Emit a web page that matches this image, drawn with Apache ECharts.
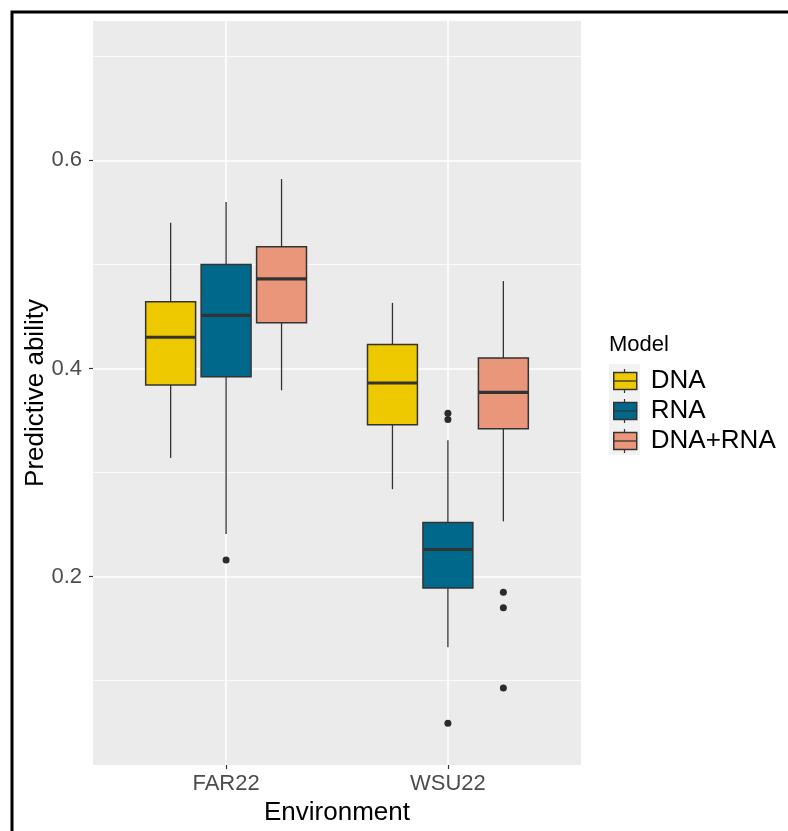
<!DOCTYPE html>
<html>
<head>
<meta charset="utf-8">
<script src="https://cdn.jsdelivr.net/npm/echarts@6/dist/echarts.min.js"></script>
<style>
  html, body { margin: 0; padding: 0; background: #fff; }
  #chart { width: 788px; height: 831px; }
</style>
</head>
<body>
<div id="chart"></div>
<script>
var environments = ['FAR22', 'WSU22'];
var models = ['DNA', 'RNA', 'DNA+RNA'];
var modelColors = ['#EEC900', '#00688B', '#E9967A'];

// per environment: [lower whisker, Q1, median, Q3, upper whisker]
var dnaStats = [[0.314, 0.384, 0.430, 0.464, 0.540], [0.284, 0.346, 0.386, 0.423, 0.463]];
var rnaStats = [[0.241, 0.392, 0.451, 0.500, 0.560], [0.132, 0.189, 0.226, 0.252, 0.331]];
var dnaRnaStats = [[0.379, 0.444, 0.486, 0.517, 0.582], [0.253, 0.342, 0.377, 0.410, 0.484]];

// outliers: [environment index, value]
var dnaOutliers = [];
var rnaOutliers = [[0, 0.216], [1, 0.357], [1, 0.351], [1, 0.059]];
var dnaRnaOutliers = [[1, 0.185], [1, 0.170], [1, 0.093]];

var yTicks = [0.2, 0.4, 0.6];
var yMinorTicks = [0.1, 0.3, 0.5, 0.7];

var FONT = 'Liberation Sans, Arial, sans-serif';
var dodge = [-0.25, 0, 0.25];
var boxWidth = 0.225;

var chart = echarts.init(document.getElementById('chart'));

// 箱线图绘制
function makeRender(offset) {
  return function (params, api) {
    var x = api.value(0) + offset;
    var low = api.coord([x, api.value(1)]);
    var q1 = api.coord([x, api.value(2)]);
    var med = api.coord([x, api.value(3)]);
    var q3 = api.coord([x, api.value(4)]);
    var high = api.coord([x, api.value(5)]);
    var half = api.size([boxWidth, 0])[0] / 2;
    var fill = api.visual('color');
    return {
      type: 'group',
      children: [
        { type: 'line', shape: { x1: low[0], y1: low[1], x2: high[0], y2: high[1] },
          style: { stroke: '#333333', lineWidth: 1.3 } },
        { type: 'rect', shape: { x: q3[0] - half, y: q3[1], width: half * 2, height: q1[1] - q3[1] },
          style: { fill: fill, stroke: '#333333', lineWidth: 1.5 } },
        { type: 'line', shape: { x1: med[0] - half, y1: med[1], x2: med[0] + half, y2: med[1] },
          style: { stroke: '#333333', lineWidth: 3.2 } }
      ]
    };
  };
}

function boxData(stats) {
  return stats.map(function (s, i) { return [i + 1].concat(s); });
}
function outlierData(list, offset) {
  return list.map(function (o) { return [o[0] + 1 + offset, o[1]]; });
}

var allStats = [dnaStats, rnaStats, dnaRnaStats];
var allOutliers = [dnaOutliers, rnaOutliers, dnaRnaOutliers];
var series = [];
models.forEach(function (m, k) {
  series.push({
    name: m,
    type: 'custom',
    itemStyle: { color: modelColors[k] },
    renderItem: makeRender(dodge[k]),
    encode: { x: 0, y: [1, 2, 3, 4, 5] },
    data: boxData(allStats[k]),
    z: 3
  });
});
models.forEach(function (m, k) {
  series.push({
    name: m + ' outliers',
    type: 'scatter',
    symbol: 'circle',
    symbolSize: 7,
    itemStyle: { color: '#2b2b2b', opacity: 1 },
    data: outlierData(allOutliers[k], dodge[k]),
    z: 4
  });
});

// 图例装饰（须线、中位线、背景）
var legLeft = 613, legTop = 366, legPitch = 30, keyW = 23, keyH = 17;
var keyCx = legLeft + keyW / 2;
var legendGraphics = [{
  type: 'rect', z: 1,
  shape: { x: 609, y: 364, width: 31, height: legPitch * 3 + 1 },
  style: { fill: '#F2F2F2' }
}];
models.forEach(function (m, i) {
  var cy = legTop + legPitch / 2 + i * legPitch;
  legendGraphics.push(
    { type: 'line', z: 10, shape: { x1: keyCx, y1: cy - 12, x2: keyCx, y2: cy - keyH / 2 },
      style: { stroke: '#333333', lineWidth: 1.2 } },
    { type: 'line', z: 10, shape: { x1: keyCx, y1: cy + keyH / 2, x2: keyCx, y2: cy + 12 },
      style: { stroke: '#333333', lineWidth: 1.2 } },
    { type: 'line', z: 10, shape: { x1: legLeft, y1: cy, x2: legLeft + keyW, y2: cy },
      style: { stroke: '#333333', lineWidth: 1.3 } }
  );
});
legendGraphics.push({
  type: 'rect', z: 0, silent: true,
  shape: { x: 12, y: 12, width: 800, height: 840 },
  style: { fill: 'none', stroke: '#000000', lineWidth: 3 }
});

var option = {
  backgroundColor: '#ffffff',
  animation: false,
  title: {
    text: 'Model',
    left: 609,
    top: 334,
    padding: 0,
    textStyle: { fontFamily: FONT, fontSize: 22, fontWeight: 'normal', color: '#000000' }
  },
  legend: {
    data: models,
    orient: 'vertical',
    left: legLeft,
    top: legTop,
    padding: 0,
    itemGap: 0,
    itemWidth: keyW,
    itemHeight: keyH,
    icon: 'rect',
    selectedMode: false,
    itemStyle: { borderColor: '#333333', borderWidth: 1.5 },
    textStyle: { fontFamily: FONT, fontSize: 26, color: '#000000', lineHeight: legPitch, padding: [0, 0, 0, 9] }
  },
  grid: {
    left: 93,
    top: 21,
    width: 488,
    height: 744,
    show: true,
    backgroundColor: '#EBEBEB',
    borderWidth: 0,
    outerBoundsMode: 'none'
  },
  xAxis: {
    type: 'value',
    min: 0.4,
    max: 2.6,
    name: 'Environment',
    nameLocation: 'middle',
    nameGap: 35,
    nameMoveOverlap: false,
    nameTextStyle: { fontFamily: FONT, fontSize: 26, color: '#000000' },
    axisLine: { show: false },
    axisTick: { show: true, customValues: [1, 2], length: 4, lineStyle: { color: '#333333', width: 1.2 } },
    axisLabel: {
      customValues: [1, 2],
      margin: 8,
      fontFamily: FONT, fontSize: 22, color: '#4D4D4D',
      formatter: function (v) { return environments[Math.round(v) - 1]; }
    },
    splitLine: { show: true, lineStyle: { color: '#ffffff', width: 1.6 } }
  },
  yAxis: [{
    type: 'value',
    min: 0.0189,
    max: 0.7339,
    name: 'Predictive ability',
    nameLocation: 'middle',
    nameRotate: 90,
    nameGap: 44,
    nameMoveOverlap: false,
    nameTextStyle: { fontFamily: FONT, fontSize: 26, color: '#000000' },
    axisLine: { show: false },
    axisTick: { show: true, customValues: yTicks, length: 4, lineStyle: { color: '#333333', width: 1.2 } },
    axisLabel: {
      customValues: yTicks,
      margin: 11,
      fontFamily: FONT, fontSize: 22, color: '#4D4D4D',
      formatter: function (v) { return v.toFixed(1); }
    },
    splitLine: { show: true, lineStyle: { color: '#ffffff', width: 1.6 } }
  }, {
    type: 'value',
    min: 0.0189,
    max: 0.7339,
    position: 'left',
    axisLine: { show: false },
    axisTick: { show: false, customValues: yMinorTicks },
    axisLabel: { show: false, customValues: yMinorTicks },
    splitLine: { show: true, lineStyle: { color: '#ffffff', width: 0.8 } }
  }],
  graphic: legendGraphics,
  series: series
};

chart.setOption(option);
</script>
</body>
</html>
